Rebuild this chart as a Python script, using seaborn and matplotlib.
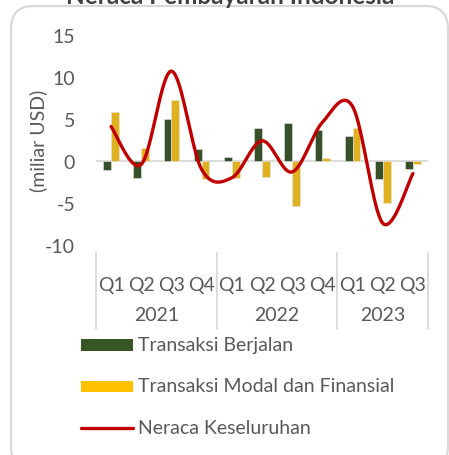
import numpy as np
import pandas as pd
import matplotlib
matplotlib.use("Agg")
import matplotlib.pyplot as plt
from matplotlib.patches import FancyBboxPatch, Rectangle
from matplotlib.lines import Line2D
import seaborn as sns

# Quarterly balance of payments, billion USD
quarters = ["Q1", "Q2", "Q3", "Q4", "Q1", "Q2", "Q3", "Q4", "Q1", "Q2", "Q3"]
years = ["2021", "2022", "2023"]
year_lengths = [4, 4, 3]
current_account = [-1.1, -2.0, 5.0, 1.4, 0.5, 3.9, 4.5, 3.7, 3.0, -2.2, -0.9]
capital_financial = [5.8, 1.5, 7.3, -2.1, -2.0, -1.9, -5.3, 0.3, 3.9, -5.0, -0.3]
overall_balance = [4.1, -0.4, 10.7, -1.0, -2.0, 2.4, -1.3, 4.6, 6.5, -7.4, -1.5]

series_names = ["Transaksi Berjalan", "Transaksi Modal dan Finansial", "Neraca Keseluruhan"]
colors = ["#375623", "#FFC000", "#C00000"]
text_color = "#595959"
grid_color = "#D9D9D9"
fs = 14

sns.set_style("white")
plt.rcParams["font.family"] = ["Lato", "DejaVu Sans"]

W, H = 449, 456
fig = plt.figure(figsize=(W / 100, H / 100), dpi=100)


def fx(px):
    return px / W


def fy(py):
    return 1 - py / H


# rounded chart frame
frame = FancyBboxPatch((fx(11), fy(470)), fx(448) - fx(11), fy(7) - fy(470),
                       boxstyle="round,pad=0,rounding_size=0.05",
                       transform=fig.transFigure, fill=False,
                       edgecolor=grid_color, linewidth=1.6)
fig.patches.append(frame)

fig.text(fx(230), fy(3.5), "Neraca Pembayaran Indonesia", ha="center", va="baseline",
         fontsize=17.5, fontweight="bold", color="#404040")

ax = fig.add_axes([fx(96), fy(246), fx(428) - fx(96), fy(36) - fy(246)])

n = len(quarters)
labels = [f"{i}" for i in range(n)]
df = pd.DataFrame({
    "period": labels * 2,
    "value": current_account + capital_financial,
    "series": [series_names[0]] * n + [series_names[1]] * n,
})

ax.axhline(0, color=grid_color, linewidth=1.3, zorder=0)
sns.barplot(data=df, x="period", y="value", hue="series", order=labels,
            hue_order=series_names[:2], palette=colors[:2], width=0.52,
            dodge=True, ax=ax, legend=False, edgecolor="#E6E6E6", linewidth=0.4,
            zorder=2)


def smooth_curve(y, steps=40):
    """Cubic Bezier smoothing through each point (Catmull-Rom tangents)."""
    y = np.asarray(y, dtype=float)
    x = np.arange(len(y), dtype=float)
    xp = np.concatenate([[x[0]], x, [x[-1]]])
    yp = np.concatenate([[y[0]], y, [y[-1]]])
    xs, ys = [], []
    t = np.linspace(0, 1, steps)
    for i in range(len(y) - 1):
        p0 = np.array([x[i], y[i]])
        p3 = np.array([x[i + 1], y[i + 1]])
        p1 = p0 + (np.array([xp[i + 2], yp[i + 2]]) - np.array([xp[i], yp[i]])) / 6
        p2 = p3 - (np.array([xp[i + 3], yp[i + 3]]) - np.array([xp[i + 1], yp[i + 1]])) / 6
        b = ((1 - t) ** 3)[:, None] * p0 + (3 * (1 - t) ** 2 * t)[:, None] * p1 \
            + (3 * (1 - t) * t ** 2)[:, None] * p2 + (t ** 3)[:, None] * p3
        xs.append(b[:, 0])
        ys.append(b[:, 1])
    return np.concatenate(xs), np.concatenate(ys)


sx, sy = smooth_curve(overall_balance)
sns.lineplot(x=sx, y=sy, sort=False, color=colors[2], linewidth=2.4, ax=ax,
             zorder=3, solid_capstyle="round")

ax.set_xlim(-0.5, n - 0.5)
ax.set_ylim(-10, 15)
ax.set_yticks(range(-10, 16, 5))
ax.set_yticklabels([str(v) for v in range(-10, 16, 5)], fontsize=fs, color=text_color)
ax.tick_params(axis="y", length=0, pad=15)
ax.set_xticks([])
ax.set_xlabel("")
ax.set_ylabel("(miliar USD)", fontsize=fs, color=text_color)
ax.yaxis.set_label_coords((47 - 96) / 332, 0.5)
for s in ax.spines.values():
    s.set_visible(False)

# two-level category axis
tr = ax.get_xaxis_transform()


def ay(py):
    return (246 - py) / 210


for i, q in enumerate(quarters):
    ax.text(i, ay(286), q, transform=tr, ha="center", va="center",
            fontsize=fs, color=text_color, clip_on=False)
start = 0
edges = [-0.5]
for yr, ln in zip(years, year_lengths):
    ax.text(start + (ln - 1) / 2, ay(316), yr, transform=tr, ha="center",
            va="center", fontsize=fs, color=text_color, clip_on=False)
    start += ln
    edges.append(start - 0.5)
for e in edges:
    ax.add_line(Line2D([e, e], [ay(254), ay(330)], transform=tr, color=grid_color,
                       linewidth=1.3, clip_on=False))

# legend
fig.patches.append(Rectangle((fx(81), fy(352)), fx(133) - fx(81), fy(340) - fy(352),
                             transform=fig.transFigure, facecolor=colors[0], edgecolor="none"))
fig.patches.append(Rectangle((fx(81), fy(393)), fx(133) - fx(81), fy(382) - fy(393),
                             transform=fig.transFigure, facecolor=colors[1], edgecolor="none"))
fig.lines.append(Line2D([fx(81), fx(133)], [fy(429), fy(429)], transform=fig.transFigure,
                        color=colors[2], linewidth=2.4, solid_capstyle="round"))
for name, py in zip(series_names, [346, 387, 429]):
    fig.text(fx(138), fy(py), name, ha="left", va="center", fontsize=fs, color=text_color)

fig.savefig("out.png", dpi=100)
